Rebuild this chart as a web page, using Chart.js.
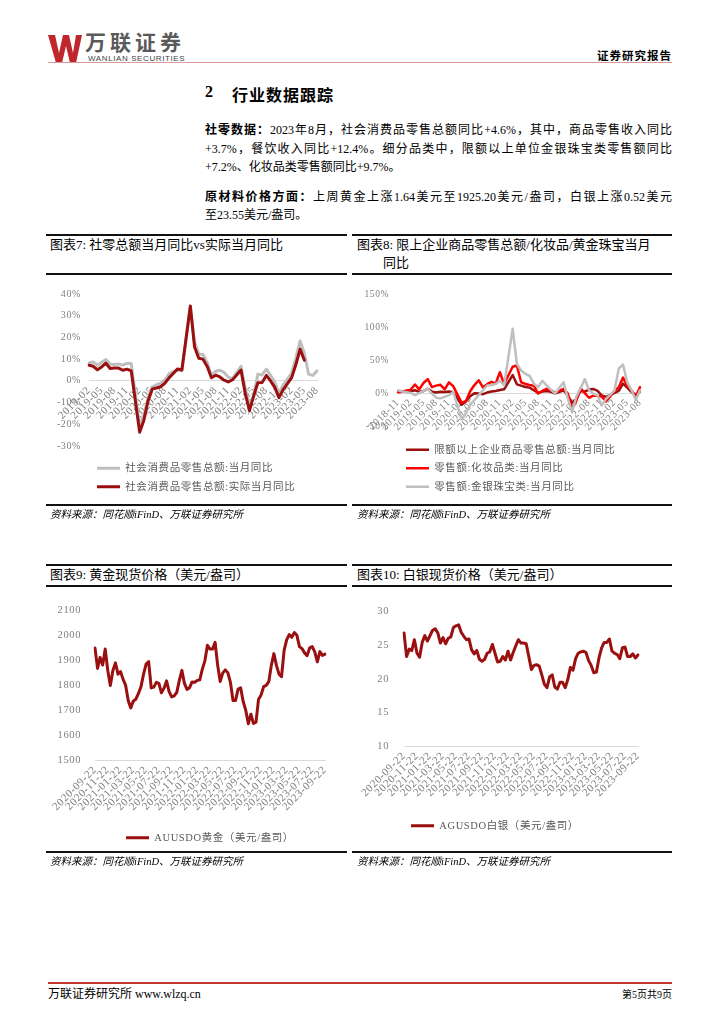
<!DOCTYPE html>
<html>
<head>
<meta charset="utf-8">
<script src="https://cdn.jsdelivr.net/npm/chart.js"></script>
<style>
body { margin: 0; background: #fff; }
#page { position: relative; width: 724px; height: 1024px; overflow: hidden; font-family: 'Liberation Serif', 'Noto Sans CJK SC', serif; color: #000; }
.abs { position: absolute; white-space: nowrap; }
.rule { position: absolute; background: #111; height: 2px; }
.line { position: absolute; left: 205px; width: 467px; font-size: 12px; line-height: 18px; height: 18px; text-align: justify; text-align-last: justify; }
.title { position: absolute; font-size: 13px; line-height: 16px; font-family: 'Liberation Serif', 'Noto Sans CJK SC'; white-space: nowrap; }
.src { position: absolute; font-size: 10.5px; font-style: italic; line-height: 14px; white-space: nowrap; }
.box { position: absolute; }
</style>
</head>
<body>
<div id="page">
  <!-- header -->
  <svg class="abs" style="left:48px;top:35px" width="34" height="28" viewBox="0 0 34 28">
    <polygon points="0,0 7,0 11,18 15,0 21,0 25,18 28,0 34,0 28,28 22,28 18,11 14,28 8,28" fill="#c0272d"/>
  </svg>
  <div class="abs" style="left:85px;top:31px;font:700 21px/21px 'Noto Sans CJK SC';letter-spacing:4px;color:#5a5a5a">万联证券</div>
  <div class="abs" style="left:88px;top:55px;font:8px/8px 'Liberation Sans';letter-spacing:0.6px;color:#444">WANLIAN SECURITIES</div>
  <div class="abs" style="left:48px;top:62px;width:624px;height:1px;background:#d99a9a"></div>
  <div class="abs" style="right:52px;top:47px;font:700 11.5px 'Noto Sans CJK SC';letter-spacing:1px">证券研究报告</div>

  <div class="abs" style="left:205px;top:83px;font:700 16px 'Liberation Serif'">2</div>
  <div class="abs" style="left:232px;top:82px;font:700 16px 'Noto Sans CJK SC';letter-spacing:1px">行业数据跟踪</div>

  <div class="line" style="top:121px"><b>社零数据：</b>2023年8月，社会消费品零售总额同比+4.6%，其中，商品零售收入同比</div>
  <div class="line" style="top:140px">+3.7%，餐饮收入同比+12.4%。细分品类中，限额以上单位金银珠宝类零售额同比</div>
  <div class="line" style="top:158px;text-align-last:left">+7.2%、化妆品类零售额同比+9.7%。</div>
  <div class="line" style="top:188px"><b>原材料价格方面：</b>上周黄金上涨1.64美元至1925.20美元/盎司，白银上涨0.52美元</div>
  <div class="line" style="top:206px;text-align-last:left">至23.55美元/盎司。</div>

  <!-- row 1 -->
  <div class="rule" style="left:46px;top:234px;width:301px"></div>
  <div class="rule" style="left:352px;top:234px;width:320px"></div>
  <div class="title" style="left:50px;top:237px">图表7: 社零总额当月同比vs实际当月同比</div>
  <div class="title" style="left:357px;top:237px">图表8: 限上企业商品零售总额/化妆品/黄金珠宝当月</div>
  <div class="title" style="left:383px;top:255px">同比</div>
  <div class="rule" style="left:46px;top:273px;width:301px"></div>
  <div class="rule" style="left:352px;top:273px;width:320px"></div>
  <div class="box" style="left:46px;top:280px;width:301px;height:225px"><canvas id="c7"></canvas></div>
  <div class="box" style="left:352px;top:280px;width:320px;height:225px"><canvas id="c8"></canvas></div>
  <div class="rule" style="left:46px;top:504px;width:301px"></div>
  <div class="rule" style="left:352px;top:504px;width:320px"></div>
  <div class="src" style="left:50px;top:508px">资料来源：同花顺iFinD、万联证券研究所</div>
  <div class="src" style="left:357px;top:508px">资料来源：同花顺iFinD、万联证券研究所</div>

  <!-- row 2 -->
  <div class="rule" style="left:46px;top:564px;width:301px"></div>
  <div class="rule" style="left:352px;top:564px;width:320px"></div>
  <div class="title" style="left:50px;top:567px">图表9: 黄金现货价格（美元/盎司）</div>
  <div class="title" style="left:357px;top:567px">图表10: 白银现货价格（美元/盎司）</div>
  <div class="rule" style="left:46px;top:585px;width:301px"></div>
  <div class="rule" style="left:352px;top:585px;width:320px"></div>
  <div class="box" style="left:46px;top:590px;width:301px;height:265px"><canvas id="c9"></canvas></div>
  <div class="box" style="left:352px;top:590px;width:320px;height:265px"><canvas id="c10"></canvas></div>
  <div class="rule" style="left:46px;top:851px;width:301px"></div>
  <div class="rule" style="left:352px;top:851px;width:320px"></div>
  <div class="src" style="left:50px;top:855px">资料来源：同花顺iFinD、万联证券研究所</div>
  <div class="src" style="left:357px;top:855px">资料来源：同花顺iFinD、万联证券研究所</div>

  <!-- footer -->
  <div class="abs" style="left:48px;top:982px;width:624px;height:2px;background:#c0392b"></div>
  <div class="abs" style="left:48px;top:986px;font-size:12px;line-height:16px">万联证券研究所 www.wlzq.cn</div>
  <div class="abs" style="right:52px;top:988px;font-size:10px;line-height:14px">第5页共9页</div>
</div>

<script>
// 图表7: 2019-02 .. 2023-08, monthly (January has no separate figure)
const retailTicks = ['2019-02','2019-05','2019-08','2019-11','2020-02','2020-05','2020-08','2020-11','2021-02','2021-05','2021-08','2021-11','2022-02','2022-05','2022-08','2022-11','2023-02','2023-05','2023-08'];
const retailNominal = [8.2, 8.7, 7.2, 8.6, 9.8, 7.6, 7.5, 7.8, 7.2, 8.0, 8.0, null,
  -20.5, -15.8, -7.5, -2.8, -1.8, -1.1, 0.5, 3.3, 4.3, 5.0, 4.6, null,
  33.8, 17.7, 12.4, 12.1, 8.5, 2.5, 4.4, 4.9, 3.9, 1.7, 1.0, null,
  6.7, -3.5, -11.1, -6.7, 3.1, 2.7, 5.4, 2.5, -0.5, -5.9, -1.8, null,
  3.5, 10.6, 18.4, 12.7, 3.1, 2.5, 4.6];
const retailReal = [7.2, 6.7, 5.1, 6.4, 8.2, 5.7, 5.9, 5.9, 4.9, 5.4, 4.6, null,
  -23.7, -18.1, -9.1, -3.7, -3.3, -2.7, -1.0, 1.5, 3.5, 5.5, 5.0, null,
  34.5, 15.6, 10.4, 10.0, 6.6, 1.4, 2.6, 1.8, 0.3, -0.5, 0.5, null,
  5.0, -5.8, -13.7, -7.0, -0.9, -0.8, 2.5, 0.0, -3.0, -7.7, -4.0, null,
  1.5, 7.5, 14.6, 9.5, null, null, null];

// 图表8: 2018-11 .. 2023-08
const quotaTicks = ['2018-11','2019-02','2019-05','2019-08','2019-11','2020-02','2020-05','2020-08','2020-11','2021-02','2021-05','2021-08','2021-11','2022-02','2022-05','2022-08','2022-11','2023-02','2023-05','2023-08'];
const quotaGoods = [2.2, 2.7, null, 3.5, 5.0, 2.6, 4.0, 7.3, 2.9, 1.7, 2.7, 2.5, 3.0, 2.0, null,
  -17, -12, -4, 0.5, 0, -1, 1.5, 3, 4, 5.5, 6.5, null,
  28, 14, 12, 10, 9, 5, 1, 3, 4, 2.5, 0, null,
  5, -3, -14, -8, 4, 3, 6, 7, 4, -3, -5, null,
  1, 4, 15, 9, 2, -2, 3];
const cosmetics = [2, 3, null, 6, 13.7, 6.3, 16, 22, 9.8, 12, 13.2, 6.3, 17, 11.2, null,
  -14, -11.6, 3.5, 12.9, 20.2, 9.2, 14.3, 17.6, 15.1, 32.3, 14.4, null,
  40.7, 42.5, 17.1, 14.6, 13, 12, 0, 3.9, 7.3, 5, 1.5, null,
  7, 0, -22.3, -11, 8.1, 0.7, -6.4, -3.1, -3.7, -4.6, -12, null,
  3.8, 9.6, 24.3, 11.7, 4.8, -4.1, 9.7];
const jewelry = [4.9, 3.0, null, 1.0, -2.4, 0.5, 4.0, 7.3, 0.0, -6.3, -7.3, -5.0, -2.4, 2.4, null,
  -39, -30, -17, -9.8, -2.4, 5, 12.2, 13, 14.6, 19.5, 12.2, null,
  98.3, 45, 35, 30, 26.8, 15, 9.8, 19.5, 12.2, 6, 0, null,
  17, -7.3, -28, -4.9, 8, 22, 5, 0, -3, -18, -8, null,
  5, 38, 44, 17, 5, -9.8, 5];

// 图表9/10: 2020-09-22 .. 2023-09-22, about every 12 days
const metalTicks = ['2020-09-22','2020-11-22','2021-01-22','2021-03-22','2021-05-22','2021-07-22','2021-09-22','2021-11-22','2022-01-22','2022-03-22','2022-05-22','2022-07-22','2022-09-22','2022-11-22','2023-01-22','2023-03-22','2023-05-22','2023-07-22','2023-09-22'];
const goldPrice = [1949, 1868, 1912, 1881, 1945, 1860, 1800, 1860, 1890, 1845,
  1855, 1824, 1800, 1740, 1710, 1738, 1745, 1768, 1795, 1845,
  1885, 1895, 1790, 1793, 1812, 1808, 1770, 1789, 1818, 1775,
  1754, 1758, 1772, 1820, 1860, 1808, 1784, 1791, 1814, 1813,
  1820, 1822, 1865, 1898, 1960, 1945, 1945, 1972, 1880, 1816,
  1850, 1862, 1850, 1812, 1740, 1740, 1785, 1790, 1735, 1700,
  1647, 1685, 1648, 1653, 1745, 1762, 1795, 1800, 1815, 1880,
  1927, 1880, 1845, 1835, 1940, 1982, 2003, 1992, 2011, 2000,
  1955, 1947, 1930, 1919, 1950, 1955, 1934, 1894, 1935, 1920,
  1925];
const silverPrice = [26.8, 23.3, 24.4, 24.2, 25.8, 23.8, 23.2, 25.4, 26.4, 25.6,
  26.4, 27.2, 27.4, 26.8, 25.3, 26.1, 25.2, 26.0, 26.2, 27.6,
  27.85, 28.0, 26.9, 26.3, 25.8, 25.9, 24.3, 23.7, 24.2, 22.9,
  22.6, 22.9, 23.8, 24.0, 25.1, 23.8, 22.5, 22.6, 23.3, 22.8,
  24.1, 22.8, 23.9, 24.9, 25.8, 25.3, 25.3, 25.2, 23.3, 21.4,
  22.0, 22.1, 21.9, 20.6, 19.2, 18.7, 20.3, 20.6, 18.8, 18.5,
  19.5, 19.5, 18.7, 19.9, 21.7, 21.3, 23.0, 23.8, 24.0, 24.1,
  23.9, 22.7, 22.0, 20.9, 21.0, 23.1, 24.6, 25.4, 25.4, 25.9,
  24.1, 23.8, 23.6, 23.0, 24.6, 24.7, 23.3, 23.3, 23.7, 23.1,
  23.55];

Chart.defaults.font.family = "'Liberation Serif', 'Noto Sans CJK SC', serif";
Chart.defaults.color = '#7f7f7f';
Chart.defaults.animation = false;

// the report's fonts are set a little wide; canvas letterSpacing gives the same look
const wideText = {
  id: 'wideText',
  beforeLayout(chart) { chart.ctx.letterSpacing = '0.6px'; },
  beforeDraw(chart) { chart.ctx.letterSpacing = '0.6px'; }
};

function lineSet(label, data, color, width) {
  return {
    label: label, data: data,
    borderColor: color, backgroundColor: color, borderWidth: width,
    pointRadius: 0, tension: 0, spanGaps: true,
    borderJoinStyle: 'round', borderCapStyle: 'round'
  };
}

function makeChart(id, o) {
  return new Chart(document.getElementById(id), {
    type: 'line',
    data: { labels: o.sets[0].data.map((v, i) => i), datasets: o.sets },
    plugins: [wideText],
    options: {
      responsive: true,
      maintainAspectRatio: false,
      layout: { padding: o.padding },
      plugins: {
        tooltip: { enabled: false },
        legend: {
          position: 'bottom',
          align: o.align,
          fullSize: o.fullSize,
          title: { display: true, text: '', padding: 0, font: { size: o.spacer, lineHeight: 1 } },
          labels: {
            usePointStyle: true, pointStyle: 'line', pointStyleWidth: 23,
            padding: 8, color: '#595959',
            font: { size: 10.5 },
            sort: (a, b) => b.datasetIndex - a.datasetIndex
          }
        }
      },
      scales: {
        x: {
          position: { y: o.axisAt },
          grid: { display: false, drawTicks: false },
          border: { color: '#d9d9d9', width: 1 },
          ticks: {
            autoSkip: false, minRotation: 45, maxRotation: 45, padding: 3,
            font: { size: o.xFont },
            callback: (v, i) => i % o.every === 0 ? o.ticks[i / o.every] : ''
          }
        },
        y: {
          min: o.min, max: o.max,
          grid: { display: false, drawTicks: false },
          border: { display: false },
          ticks: { stepSize: o.step, padding: o.yPad, font: { size: o.yFont }, callback: o.fmt },
          afterFit: s => { s.width = o.yWidth; }
        }
      }
    }
  });
}

const pct = v => v + '%';

makeChart('c7', {
  sets: [
    lineSet('社会消费品零售总额:实际当月同比', retailReal, '#9a0f0f', 3),
    lineSet('社会消费品零售总额:当月同比', retailNominal, '#bfbfbf', 3)
  ],
  ticks: retailTicks, every: 3, axisAt: 0, xFont: 11,
  min: -30, max: 40, step: 10, fmt: pct, yFont: 10, yPad: 8, yWidth: 43,
  padding: { top: 11, right: 30, bottom: 3, left: 0 },
  align: 'start', fullSize: false, spacer: 9
});

makeChart('c8', {
  sets: [
    lineSet('零售额:金银珠宝类:当月同比', jewelry, '#bfbfbf', 2.5),
    lineSet('零售额:化妆品类:当月同比', cosmetics, '#ff0000', 2.5),
    lineSet('限额以上企业商品零售总额:当月同比', quotaGoods, '#9a0f0f', 2.5)
  ],
  ticks: quotaTicks, every: 3, axisAt: 0, xFont: 10.5,
  min: -50, max: 150, step: 50, fmt: pct, yFont: 9.5, yPad: 9, yWidth: 46,
  padding: { top: 11, right: 32, bottom: 3, left: 0 },
  align: 'start', fullSize: false, spacer: 10
});

makeChart('c9', {
  sets: [lineSet('AUUSDO黄金（美元/盎司）', goldPrice, '#9a0f0f', 3)],
  ticks: metalTicks, every: 5, axisAt: 1500, xFont: 11,
  min: 1500, max: 2100, step: 100, fmt: v => v, yFont: 10.5, yPad: 14, yWidth: 49,
  padding: { top: 9, right: 22, bottom: 2, left: 0 },
  align: 'center', fullSize: false, spacer: 64
});

makeChart('c10', {
  sets: [lineSet('AGUSDO白银（美元/盎司）', silverPrice, '#9a0f0f', 3)],
  ticks: metalTicks, every: 5, axisAt: 10, xFont: 11,
  min: 10, max: 30, step: 5, fmt: v => v, yFont: 10.5, yPad: 15, yWidth: 52,
  padding: { top: 11, right: 34, bottom: 14, left: 0 },
  align: 'center', fullSize: true, spacer: 66
});
</script>
</body>
</html>
